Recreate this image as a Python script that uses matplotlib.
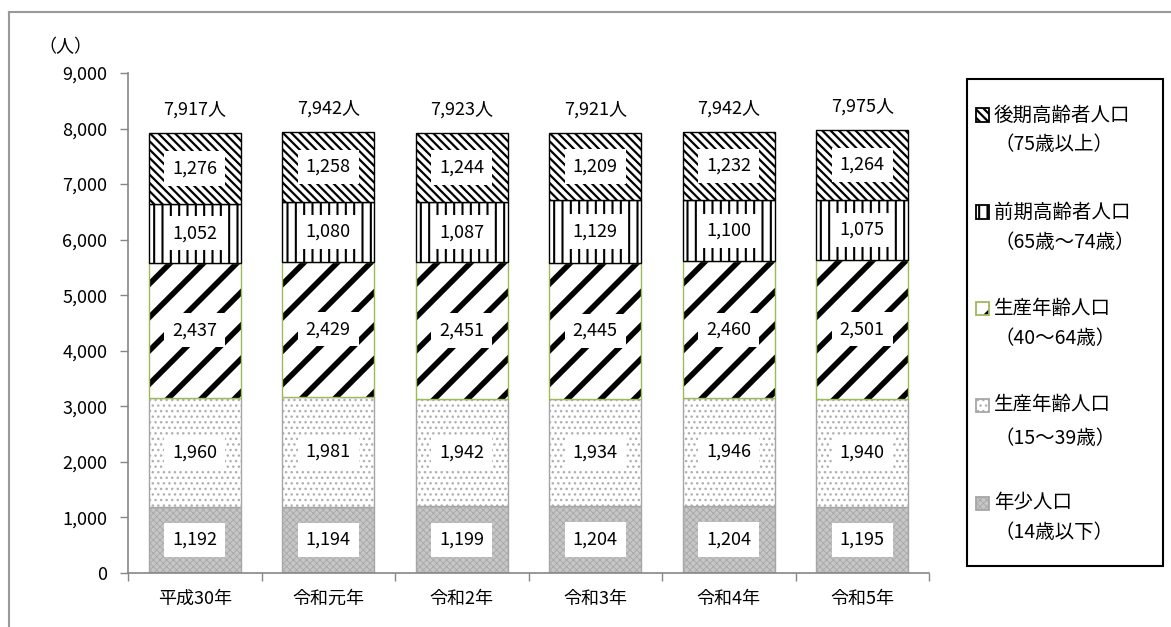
import matplotlib
matplotlib.use('Agg')
import numpy as np
import matplotlib.pyplot as plt
from matplotlib.patches import Rectangle
from matplotlib.lines import Line2D

plt.rcParams['font.family'] = ['Noto Sans CJK JP', 'DejaVu Sans']

years = ['平成30年', '令和元年', '令和2年', '令和3年', '令和4年', '令和5年']

# 年齢区分別の人口（人）
young = [1192, 1194, 1199, 1204, 1204, 1195]
work_15_39 = [1960, 1981, 1942, 1934, 1946, 1940]
work_40_64 = [2437, 2429, 2451, 2445, 2460, 2501]
early_old = [1052, 1080, 1087, 1129, 1100, 1075]
late_old = [1276, 1258, 1244, 1209, 1232, 1264]
totals = [7917, 7942, 7923, 7921, 7942, 7975]

series = [young, work_15_39, work_40_64, early_old, late_old]
names = ['年少人口\n（14歳以下）',
         '生産年齢人口\n（15～39歳）',
         '生産年齢人口\n（40～64歳）',
         '前期高齢者人口\n（65歳～74歳）',
         '後期高齢者人口\n（75歳以上）']

# (塗り, ハッチ, ハッチ色, 枠線色, ハッチ線幅)
styles = [
    ('#c6c6c6', 'xxxxx', '#a8a8a8', '#a6a6a6', 0.6),
    ('white', '...', '#b0b0b0', '#a6a6a6', 1.0),
    ('white', '/', 'black', '#9bbb59', 4.0),
    ('white', '||', 'black', 'black', 1.5),
    ('white', '\\\\\\\\', 'black', 'black', 1.6),
]

W, H = 1171, 627
fig = plt.figure(figsize=(W / 100, H / 100), dpi=100)
ax = fig.add_axes([128 / W, 1 - 573 / H, (929 - 128) / W, (573 - 73) / H])

x = np.arange(len(years))
width = 0.69
bottom = np.zeros(len(years))


def hatched_bar(axis, xs, hs, bots, w, face, hatch, hcolor, edge, hlw):
    plt.rcParams['hatch.linewidth'] = hlw
    b = axis.bar(xs, hs, w, bottom=bots, color=face, hatch=hatch,
                 edgecolor=hcolor, linewidth=0)
    axis.bar(xs, hs, w, bottom=bots, color='none', edgecolor=edge, linewidth=1.0)
    return b


for vals, (face, hatch, hcolor, edge, hlw) in zip(series, styles):
    vals = np.array(vals)
    hatched_bar(ax, x, vals, bottom, width, face, hatch, hcolor, edge, hlw)
    for xi, b, v in zip(x, bottom, vals):
        ax.text(xi, b + v / 2, f'{v:,}', ha='center', va='center', fontsize=13,
                bbox=dict(boxstyle='square,pad=0.45', fc='white', ec='none'))
    bottom = bottom + vals

for xi, t in zip(x, totals):
    ax.annotate(f'{t:,}人', (xi, t), xytext=(0, 17), textcoords='offset points',
                ha='center', va='center', fontsize=13)

ax.set_xlim(-0.5, len(years) - 0.5)
ax.set_ylim(0, 9000)
ax.set_yticks(np.arange(0, 9001, 1000))
ax.set_yticklabels([f'{v:,}' for v in range(0, 9001, 1000)], fontsize=13)
ax.set_xticks(x)
ax.set_xticklabels(years, fontsize=13)
ax.set_xticks(np.arange(-0.5, len(years), 1), minor=True)
ax.tick_params(axis='x', which='major', length=0, pad=12)
ax.tick_params(axis='x', which='minor', length=6, color='#868686', width=1)
ax.tick_params(axis='y', length=6, color='#868686', width=1, pad=9)
for s in ['top', 'right']:
    ax.spines[s].set_visible(False)
for s in ['left', 'bottom']:
    ax.spines[s].set_color('#868686')
    ax.spines[s].set_linewidth(1.2)

fig.text(65 / W, 1 - 47 / H, '（人）', ha='center', va='center', fontsize=13)

# 外枠
fig.add_artist(Line2D([9 / W, 1], [1 - 12 / H, 1 - 12 / H], transform=fig.transFigure,
                      color='#9a9a9a', lw=1.5))
fig.add_artist(Line2D([9 / W, 9 / W], [0, 1 - 12 / H], transform=fig.transFigure,
                      color='#9a9a9a', lw=1.5))

# 凡例
fig.add_artist(Rectangle((967 / W, 1 - 566 / H), (1163 - 967) / W, (566 - 79) / H,
                         transform=fig.transFigure, fc='white', ec='black', lw=1.5))
rows = [(115, 145), (212, 242), (308, 338), (405, 438), (503, 532)]
for (y1, y2), name, (face, hatch, hcolor, edge, hlw) in zip(rows, names[::-1], styles[::-1]):
    s = 13
    plt.rcParams['hatch.linewidth'] = min(hlw, 2.0)
    fig.add_artist(Rectangle((976 / W, 1 - (y1 + s / 2) / H), s / W, s / H,
                             transform=fig.transFigure, fc=face, hatch=hatch, ec=hcolor, lw=0))
    fig.add_artist(Rectangle((976 / W, 1 - (y1 + s / 2) / H), s / W, s / H,
                             transform=fig.transFigure, fc='none', ec=edge, lw=1.3))
    l1, l2 = name.split('\n')
    fig.text(994 / W, 1 - y1 / H, l1, ha='left', va='center', fontsize=14)
    fig.text(994 / W, 1 - y2 / H, l2, ha='left', va='center', fontsize=14)

fig.savefig('out.png', dpi=100)
